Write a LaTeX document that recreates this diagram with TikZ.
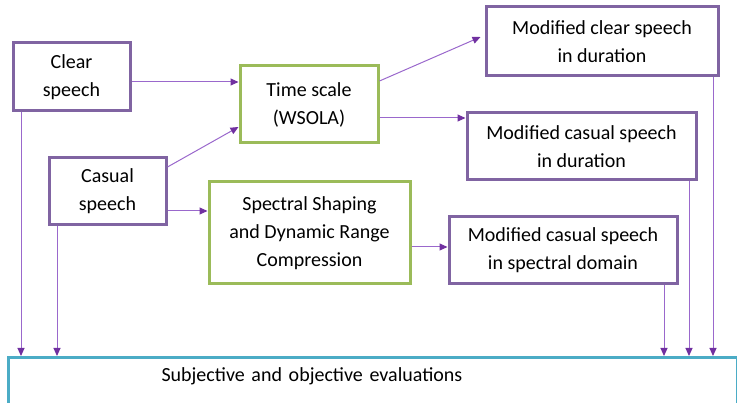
\documentclass[tikz,border=0pt]{standalone}
\usepackage{fontspec}
\setmainfont{Carlito}
\usepackage{tikz}
\usetikzlibrary{arrows.meta}

\definecolor{boxpurple}{HTML}{8064A2}
\definecolor{boxgreen}{HTML}{9BBB59}
\definecolor{boxblue}{HTML}{4BACC6}
\definecolor{linepurple}{HTML}{9A68CC}
\definecolor{tippurple}{HTML}{7030A0}

\tikzset{
  sigbox/.style={draw=boxpurple, line width=3pt, fill=white, align=center, inner sep=2pt},
  procbox/.style={draw=boxgreen, line width=3pt, fill=white, align=center, inner sep=2pt},
  arr/.style={draw=linepurple, line width=1pt, -{Triangle[length=8pt,width=7pt,color=tippurple]}}
}

\begin{document}
\begin{tikzpicture}[x=1pt,y=-1pt,font=\fontsize{20}{28}\selectfont]
        \useasboundingbox (0,0) rectangle (737,403);
        \node[sigbox, minimum width=117pt, minimum height=68pt] (clear) at (71.5,77) {Clear\\speech};
        \node[sigbox, minimum width=117pt, minimum height=67pt] (casual) at (107.5,191.5) {Casual\\speech};
        \node[procbox, minimum width=138pt, minimum height=77pt] (time) at (309,104.5) {Time scale\\(WSOLA)};
        \node[procbox, minimum width=201pt, minimum height=102pt] (spectral) at (309.5,233) {Spectral Shaping\\and Dynamic Range\\Compression};
        \node[sigbox, minimum width=232pt, minimum height=69pt] (modclear) at (602,41.5) {Modified clear speech\\in duration};
        \node[sigbox, minimum width=229pt, minimum height=67pt] (modcasdur) at (581.5,146.5) {Modified casual speech\\in duration};
        \node[sigbox, minimum width=228pt, minimum height=67pt] (modcasspec) at (563,250.5) {Modified casual speech\\in spectral domain};
        \node[draw=boxblue, line width=3pt, anchor=north west, text height=14pt, text depth=30pt,
              inner ysep=10pt, text width=423pt, inner xsep=153pt, align=left] (eval) at (7,356) {Subjective and objective evaluations};
        % into the processing blocks
        \draw[arr] (clear.east |- 0,82) -- (time.west |- 0,82);
        \draw[arr] (casual.east |- 0,167) -- (time.west |- 0,127);
        \draw[arr] (casual.east |- 0,211) -- (spectral.west |- 0,211);
        % out of the processing blocks
        \draw[arr] (time.east |- 0,81) -- ([xshift=-4pt]modclear.west |- 0,37);
        \draw[arr] (time.east |- 0,118) -- (modcasdur.west |- 0,118);
        \draw[arr] (spectral.east |- 0,247) -- (modcasspec.west |- 0,247);
        % down to the evaluations
        \draw[arr] (clear.south -| 21,0) -- (eval.north -| 21,0);
        \draw[arr] (casual.south -| 57,0) -- (eval.north -| 57,0);
        \draw[arr] (modcasspec.south -| 664,0) -- (eval.north -| 664,0);
        \draw[arr] (modcasdur.south -| 689,0) -- (eval.north -| 689,0);
        \draw[arr] (modclear.south -| 713,0) -- (eval.north -| 713,0);
\end{tikzpicture}
\end{document}
